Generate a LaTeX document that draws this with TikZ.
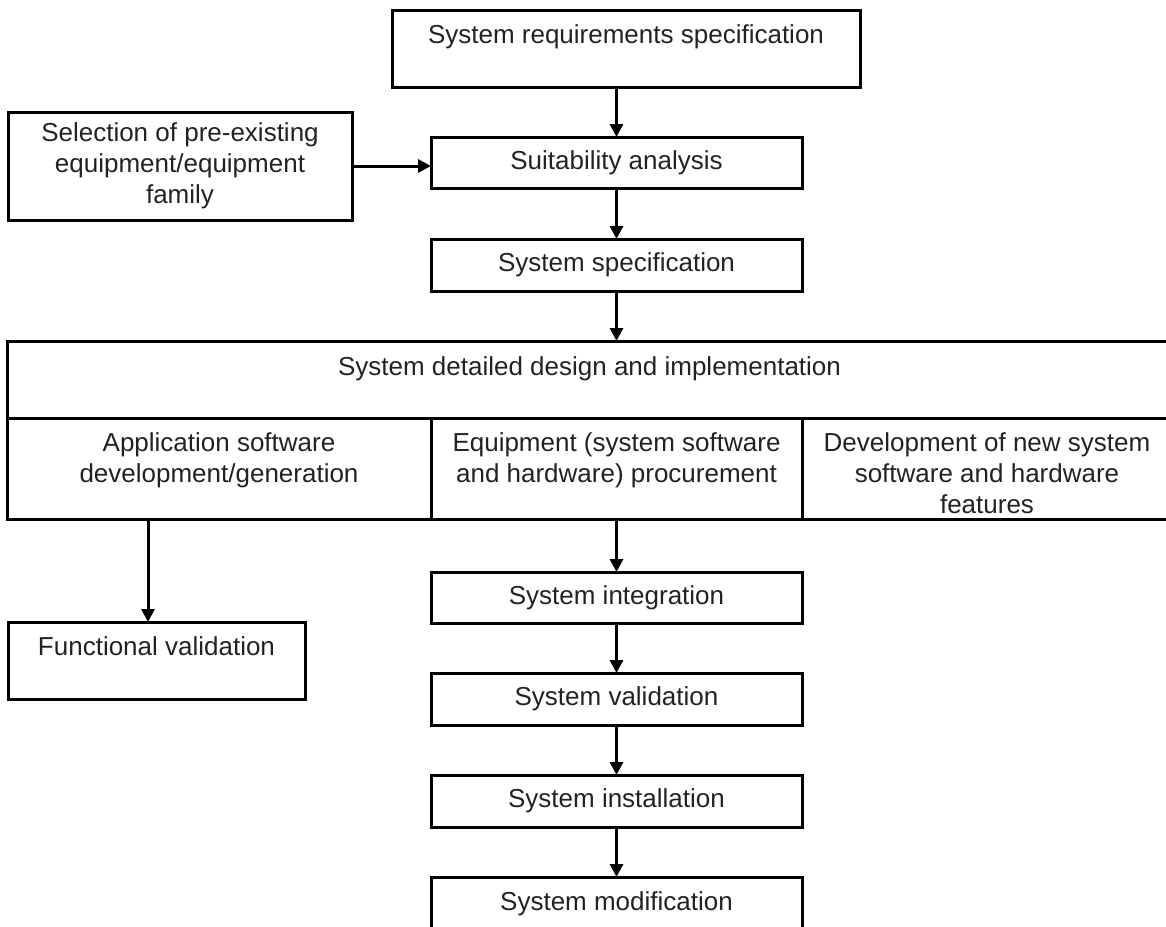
\documentclass[tikz,border=0pt]{standalone}
\usepackage{fontspec}
\setmainfont{Liberation Sans}
\usetikzlibrary{arrows.meta,calc}
\definecolor{txtcol}{HTML}{222222}
\begin{document}
\begin{tikzpicture}[x=1pt,y=-1pt,
  box/.style={draw, line width=3pt, rectangle, inner sep=0pt, outer sep=0pt},
  tfont/.style={font={\fontsize{26}{31}\selectfont}, text=txtcol, align=center},
  toptxt/.style={tfont, anchor=north, inner sep=0pt},
  arr/.style={draw, line width=3pt, -{Triangle[width=13pt,length=13pt]}}]
\useasboundingbox (0,0) rectangle (1166,926);
% top
\node[box, minimum width=468pt, minimum height=77pt] (req) at (626,48.5) {};
\node[toptxt] (reqt) at ([yshift=-14pt]req.north) {System requirements specification};
\node[box, tfont, minimum width=344pt, minimum height=108pt] (sel) at (180,166) {Selection of pre-existing\\equipment/equipment\\family};
\node[box, tfont, minimum width=371pt, minimum height=51pt] (suit) at (616.5,162.5) {Suitability analysis};
\node[box, tfont, minimum width=371pt, minimum height=52pt] (spec) at (616.5,265) {System specification};
% big box
\node[box, minimum width=1165pt, minimum height=77pt] (impl) at (589.5,379.5) {};
\node[toptxt] (implt) at ([yshift=-15pt]impl.north) {System detailed design and implementation};
\node[box, minimum width=424pt, minimum height=101pt] (app) at (219,468.5) {};
\node[box, minimum width=371pt, minimum height=101pt] (equip) at (616.5,468.5) {};
\node[box, minimum width=370pt, minimum height=101pt] (dev) at (987,468.5) {};
\node[toptxt] (appt) at ([yshift=-14pt]app.north) {Application software\\development/generation};
\node[toptxt] (equipt) at ([yshift=-14pt]equip.north) {Equipment (system software\\and hardware) procurement};
\node[toptxt] (devt) at ([yshift=-14pt]dev.north) {Development of new system\\software and hardware\\features};
% lower
\node[box, minimum width=297pt, minimum height=77pt] (func) at (156.5,660.5) {};
\node[toptxt] (funct) at ([yshift=-14pt]func.north) {Functional validation};
\node[box, tfont, minimum width=371pt, minimum height=51pt] (integ) at (616.5,597.5) {System integration};
\node[box, tfont, minimum width=371pt, minimum height=52pt] (val) at (616.5,699) {System validation};
\node[box, tfont, minimum width=371pt, minimum height=52pt] (inst) at (616.5,801) {System installation};
\node[box, minimum width=371pt, minimum height=78pt] (mod) at (616.5,916) {};
\node[toptxt] (modt) at ([yshift=-14pt]mod.north) {System modification};
% arrows
\draw[arr] (req.south -| suit.north) -- (suit.north);
\draw[arr] (sel.east) -- (sel.east -| suit.west);
\draw[arr] (suit.south) -- (spec.north);
\draw[arr] (spec.south) -- (spec.south |- impl.north);
\draw[arr] ([xshift=141pt]app.south west) -- ([xshift=140pt]func.north west);
\draw[arr] (equip.south) -- (integ.north);
\draw[arr] (integ.south) -- (val.north);
\draw[arr] (val.south) -- (inst.north);
\draw[arr] (inst.south) -- (mod.north);
\end{tikzpicture}
\end{document}
